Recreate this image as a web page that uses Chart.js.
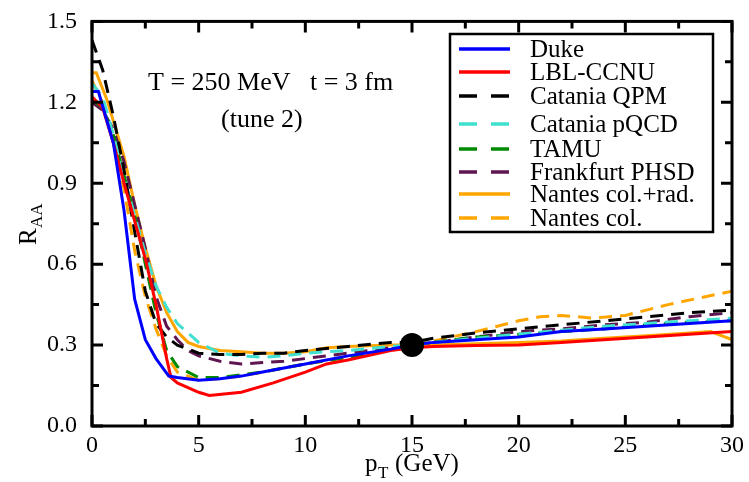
<!DOCTYPE html>
<html>
<head>
<meta charset="utf-8">
<script src="https://cdn.jsdelivr.net/npm/chart.js@4.4.1/dist/chart.umd.min.js"></script>
<style>
  html, body { margin: 0; padding: 0; background: #fff; }
  #wrap { width: 749px; height: 482px; }
</style>
</head>
<body>
<div id="wrap"><canvas id="raaChart" width="749" height="482"></canvas></div>
<script>
// p_T (GeV) and R_AA, one pair of arrays per model
const dukeP   = [0, 0.3, 1, 1.5, 2, 2.5, 3, 3.6, 4, 5, 6, 7, 8, 10, 12, 14, 15, 16, 18, 20, 22, 24, 26, 28, 30];
const dukeR   = [1.24, 1.24, 1.05, 0.8, 0.47, 0.32, 0.25, 0.185, 0.18, 0.17, 0.175, 0.185, 0.2, 0.23, 0.26, 0.285, 0.3, 0.31, 0.32, 0.33, 0.35, 0.36, 0.37, 0.38, 0.39];

const lblP    = [0, 0.5, 1, 1.5, 2, 2.5, 3, 3.5, 3.7, 4, 5, 5.5, 7, 8.5, 10, 11, 12, 14, 15, 16, 18, 20, 22, 24, 26, 28, 30];
const lblR    = [1.22, 1.18, 1.05, 0.9, 0.76, 0.62, 0.45, 0.25, 0.18, 0.16, 0.125, 0.113, 0.125, 0.16, 0.2, 0.23, 0.245, 0.28, 0.29, 0.295, 0.298, 0.3, 0.31, 0.32, 0.33, 0.34, 0.35];

const qpmP    = [0, 0.5, 1, 1.5, 2, 2.5, 3, 3.5, 4, 5, 6, 7, 8, 9, 10, 12, 14, 15, 16, 18, 20, 22, 24, 26, 28, 30];
const qpmR    = [1.43, 1.32, 1.15, 0.95, 0.72, 0.5, 0.38, 0.33, 0.3, 0.27, 0.265, 0.265, 0.27, 0.27, 0.28, 0.295, 0.31, 0.31, 0.325, 0.345, 0.36, 0.375, 0.39, 0.405, 0.42, 0.43];

const pqcdP   = [0, 0.5, 1, 1.5, 2, 2.5, 3, 3.5, 4, 5, 6, 7, 8, 9, 10, 12, 14, 15, 16, 18, 20, 22, 24, 26, 28, 30];
const pqcdR   = [1.27, 1.22, 1.08, 0.92, 0.78, 0.64, 0.52, 0.44, 0.38, 0.31, 0.27, 0.26, 0.255, 0.26, 0.27, 0.28, 0.295, 0.3, 0.31, 0.325, 0.34, 0.355, 0.37, 0.38, 0.39, 0.4];

const tamuP   = [0, 0.5, 1, 1.5, 2, 2.5, 3, 3.5, 4, 5, 6, 7, 8, 10, 12, 14, 15, 16, 18, 20, 22, 24, 26, 28, 30];
const tamuR   = [1.21, 1.18, 1.08, 0.93, 0.78, 0.6, 0.42, 0.28, 0.22, 0.18, 0.18, 0.19, 0.2, 0.23, 0.255, 0.285, 0.3, 0.31, 0.33, 0.34, 0.35, 0.36, 0.375, 0.385, 0.39];

const phsdP   = [0, 0.5, 1, 1.5, 2, 2.5, 3, 3.5, 4, 4.5, 5, 6, 7, 8, 9, 10, 12, 14, 15, 16, 18, 20, 22, 24, 26, 28, 30];
const phsdR   = [1.2, 1.17, 1.1, 0.98, 0.82, 0.66, 0.48, 0.37, 0.32, 0.28, 0.26, 0.24, 0.23, 0.235, 0.24, 0.25, 0.27, 0.29, 0.3, 0.31, 0.33, 0.35, 0.36, 0.375, 0.385, 0.405, 0.42];

const nantesRadP = [0, 0.2, 0.7, 1.5, 2, 2.5, 3, 3.5, 4, 4.5, 5, 6, 7, 8, 9, 10, 11, 12, 14, 15, 16, 18, 20, 22, 24, 26, 28, 29, 30];
const nantesRadR = [1.31, 1.31, 1.21, 1.0, 0.82, 0.66, 0.52, 0.42, 0.35, 0.31, 0.295, 0.28, 0.275, 0.27, 0.27, 0.275, 0.29, 0.295, 0.3, 0.3, 0.3, 0.305, 0.31, 0.315, 0.325, 0.335, 0.345, 0.35, 0.32];

const nantesColP = [0, 0.5, 1, 1.5, 2, 2.5, 3, 3.5, 4, 5, 6, 7, 8, 10, 12, 14, 15, 16, 18, 20, 21, 22, 23.5, 25, 27, 30];
const nantesColR = [1.28, 1.2, 1.05, 0.88, 0.65, 0.48, 0.36, 0.26, 0.2, 0.17, 0.175, 0.185, 0.2, 0.23, 0.255, 0.285, 0.3, 0.315, 0.35, 0.39, 0.405, 0.41, 0.4, 0.41, 0.45, 0.5];

const refPoint = [15, 0.3];

const xTicks = [0, 5, 10, 15, 20, 25, 30];
const yTicks = [0.0, 0.3, 0.6, 0.9, 1.2, 1.5];

function pts(p, r) {
  return p.map((v, i) => ({ x: v, y: r[i] }));
}

const DASH = [13, 8];

function series(label, p, r, color, dashed) {
  return {
    label: label,
    data: pts(p, r),
    borderColor: color,
    backgroundColor: color,
    borderWidth: 3,
    borderDash: dashed ? DASH : [],
    pointRadius: 0,
    tension: 0,
    fill: false
  };
}

const serif = '"Liberation Serif", "DejaVu Serif", serif';

// frame with inward major/minor ticks on all four sides
const framePlugin = {
  id: 'frame',
  afterDatasetsDraw(chart) {
    const { ctx, chartArea: a, scales } = chart;
    const xs = scales.x, ys = scales.y;
    ctx.save();
    ctx.strokeStyle = '#000';
    ctx.lineWidth = 3;
    ctx.strokeRect(a.left, a.top, a.right - a.left, a.bottom - a.top);
    for (let v = 0; v <= 30; v += 2.5) {
      const px = xs.getPixelForValue(v);
      const len = (v % 5 === 0) ? 11 : 7;
      ctx.beginPath();
      ctx.moveTo(px, a.bottom); ctx.lineTo(px, a.bottom - len);
      ctx.moveTo(px, a.top); ctx.lineTo(px, a.top + len);
      ctx.stroke();
    }
    for (let k = 0; k <= 10; k++) {
      const py = ys.getPixelForValue(k * 0.15);
      const len = (k % 2 === 0) ? 11 : 7;
      ctx.beginPath();
      ctx.moveTo(a.left, py); ctx.lineTo(a.left + len, py);
      ctx.moveTo(a.right, py); ctx.lineTo(a.right - len, py);
      ctx.stroke();
    }

    // axis titles
    ctx.fillStyle = '#000';
    ctx.textBaseline = 'alphabetic';
    ctx.textAlign = 'left';
    ctx.font = '25px ' + serif;
    ctx.fillText('p', 365, 471);
    ctx.font = '17px ' + serif;
    ctx.fillText('T', 378, 478);
    ctx.font = '25px ' + serif;
    ctx.fillText('(GeV)', 395, 471);

    ctx.save();
    ctx.translate(36, 245);
    ctx.rotate(-Math.PI / 2);
    ctx.font = '25px ' + serif;
    ctx.fillText('R', 0, 0);
    ctx.font = '17px ' + serif;
    ctx.fillText('AA', 17, 6);
    ctx.restore();

    // annotation
    ctx.font = '26px ' + serif;
    ctx.fillText('T = 250 MeV   t = 3 fm', 148, 90);
    ctx.fillText('(tune 2)', 221, 127);

    // legend box
    ctx.fillStyle = '#fff';
    ctx.fillRect(450, 34, 263, 198);
    ctx.lineWidth = 2.5;
    ctx.strokeRect(450, 34, 263, 198);
    const rows = [49, 72, 96, 124, 149, 172, 194, 218];
    chart.data.datasets.forEach((ds, i) => {
      if (i >= rows.length) return;
      const y = rows[i];
      ctx.strokeStyle = ds.borderColor;
      ctx.lineWidth = 3.5;
      ctx.setLineDash(ds.borderDash.length ? [18, 14] : []);
      ctx.beginPath();
      ctx.moveTo(459, y); ctx.lineTo(510, y);
      ctx.stroke();
      ctx.setLineDash([]);
      ctx.fillStyle = '#000';
      ctx.font = '25px ' + serif;
      ctx.textBaseline = 'alphabetic';
      ctx.fillText(ds.label, 530, y + 8);
    });
    ctx.restore();
  }
};

const ctx = document.getElementById('raaChart').getContext('2d');
new Chart(ctx, {
  type: 'line',
  data: {
    datasets: [
      series('Duke', dukeP, dukeR, '#0000ff', false),
      series('LBL-CCNU', lblP, lblR, '#ff0000', false),
      series('Catania QPM', qpmP, qpmR, '#000000', true),
      series('Catania pQCD', pqcdP, pqcdR, '#40e0d0', true),
      series('TAMU', tamuP, tamuR, '#008a00', true),
      series('Frankfurt PHSD', phsdP, phsdR, '#5e1650', true),
      series('Nantes col.+rad.', nantesRadP, nantesRadR, '#ffa500', false),
      series('Nantes col.', nantesColP, nantesColR, '#ffa500', true),
      {
        label: 'ref',
        type: 'scatter',
        data: [{ x: refPoint[0], y: refPoint[1] }],
        pointRadius: 12,
        pointBackgroundColor: '#000',
        pointBorderWidth: 0,
        order: -1
      }
    ]
  },
  options: {
    responsive: false,
    animation: false,
    layout: { padding: { left: 0, top: 16, right: 17, bottom: 0 } },
    plugins: { legend: { display: false }, tooltip: { enabled: false } },
    scales: {
      x: {
        type: 'linear',
        min: 0, max: 30,
        afterFit(s) { s.height = 56; },
        afterBuildTicks(s) { s.ticks = xTicks.map(v => ({ value: v })); },
        grid: { display: false },
        border: { display: false },
        ticks: { color: '#000', font: { family: serif, size: 24 }, padding: -3, maxRotation: 0 }
      },
      y: {
        min: 0, max: 1.5,
        afterFit(s) { s.width = 92; },
        afterBuildTicks(s) { s.ticks = yTicks.map(v => ({ value: v })); },
        grid: { display: false },
        border: { display: false },
        ticks: {
          color: '#000', font: { family: serif, size: 24 }, padding: 7,
          callback: v => v.toFixed(1)
        }
      }
    }
  },
  plugins: [framePlugin]
});
</script>
</body>
</html>
